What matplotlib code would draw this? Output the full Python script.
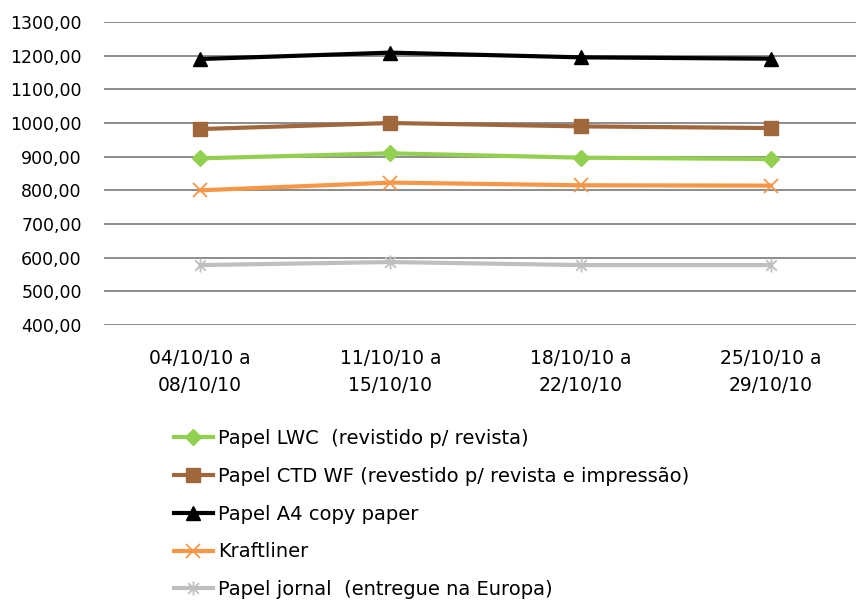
import matplotlib
matplotlib.use("Agg")
import matplotlib.pyplot as plt
from matplotlib.path import Path
from matplotlib.ticker import FuncFormatter

# Weekly paper prices
weeks = ["04/10/10 a\n08/10/10", "11/10/10 a\n15/10/10",
         "18/10/10 a\n22/10/10", "25/10/10 a\n29/10/10"]
lwc = [895, 910, 897, 893]
ctd_wf = [982, 1000, 990, 985]
a4_copy = [1190, 1209, 1195, 1191]
kraftliner = [800, 823, 815, 814]
jornal = [578, 587, 578, 578]

labels = ["Papel LWC  (revistido p/ revista)",
          "Papel CTD WF (revestido p/ revista e impressão)",
          "Papel A4 copy paper",
          "Kraftliner",
          "Papel jornal  (entregue na Europa)"]

# asterisk marker like the one Excel uses
star = Path([(-1, -1), (1, 1), (-1, 1), (1, -1), (0, -1.3), (0, 1.3)],
            [Path.MOVETO, Path.LINETO, Path.MOVETO, Path.LINETO,
             Path.MOVETO, Path.LINETO])

plt.rcParams['font.family'] = ['DejaVu Sans']
fig = plt.figure(figsize=(8.56, 6.04), dpi=100)
ax = fig.add_axes([104 / 856, 1 - 325 / 604, 752 / 856, 303 / 604])

x = range(len(weeks))
ax.plot(x, lwc, color='#92D050', lw=3, marker='D', ms=8, label=labels[0])
ax.plot(x, ctd_wf, color='#A0663C', lw=3, marker='s', ms=10, label=labels[1])
ax.plot(x, a4_copy, color='black', lw=3, marker='^', ms=10, label=labels[2])
ax.plot(x, kraftliner, color='#F79646', lw=3, marker='x', ms=10,
        mew=1.3, label=labels[3])
ax.plot(x, jornal, color='#BFBFBF', lw=3, marker=star, ms=10,
        mew=1.3, label=labels[4])

ax.set_ylim(400, 1300)
ax.set_yticks(range(400, 1301, 100))
ax.yaxis.set_major_formatter(
    FuncFormatter(lambda v, p: ('%.2f' % v).replace('.', ',')))
ax.set_xlim(-0.505, 3.447)
ax.set_xticks(list(x))
ax.set_xticklabels(weeks, fontsize=13.5, linespacing=1.55)
ax.tick_params(axis='y', labelsize=12.5, length=0, pad=16)
ax.tick_params(axis='x', length=0, pad=17)
ax.yaxis.grid(True, color='#8C8C8C', lw=1.4)
ax.set_axisbelow(True)
for s in ax.spines.values():
    s.set_visible(False)

fig.legend(loc='upper left', bbox_to_anchor=(166 / 856, 1 - 421 / 604),
           frameon=False, fontsize=14, labelspacing=0.97,
           handlelength=2.0, handletextpad=0.3, borderaxespad=0)

fig.savefig("out.png", dpi=100)
